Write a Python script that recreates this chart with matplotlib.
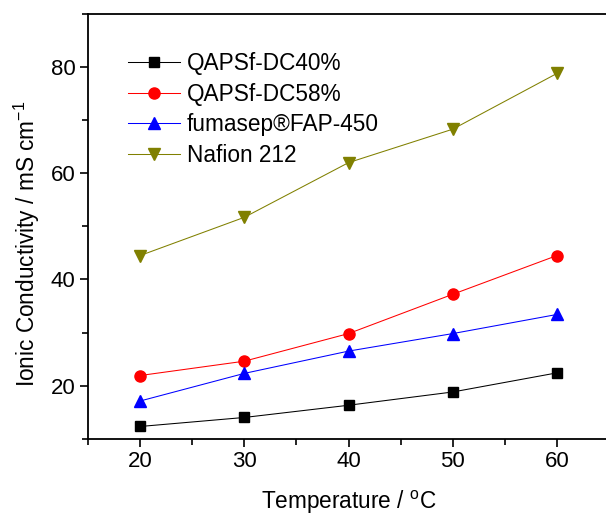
import matplotlib
matplotlib.use('Agg')
import matplotlib.pyplot as plt
from matplotlib.ticker import MultipleLocator

plt.rcParams['font.family'] = ['Liberation Sans', 'DejaVu Sans']
plt.rcParams['mathtext.fontset'] = 'custom'
plt.rcParams['mathtext.rm'] = 'Liberation Sans'

# Daten
T = [20, 30, 40, 50, 60]
dc40 = [12.3, 14.0, 16.3, 18.8, 22.4]
dc58 = [21.9, 24.6, 29.8, 37.2, 44.5]
fap450 = [17.1, 22.3, 26.5, 29.8, 33.4]
nafion = [44.5, 51.7, 62.0, 68.3, 78.8]

labels = ['QAPSf-DC40%', 'QAPSf-DC58%', 'fumasep\u00aeFAP-450', 'Nafion 212']

fig = plt.figure(figsize=(6.06, 5.15), dpi=100)
W, H = 606, 515
ax = fig.add_axes([88/W, 1 - 438.7/H, (609-88)/W, (438.7-14)/H])

ax.plot(T, dc40, '-', color='black', lw=0.75, marker='s', ms=7, mfc='black', mec='black', label=labels[0])
ax.plot(T, dc58, '-', color='red', lw=0.75, marker='o', ms=8, mfc='red', mec='red', label=labels[1])
ax.plot(T, fap450, '-', color='blue', lw=0.75, marker='^', ms=9, mfc='blue', mec='blue', label=labels[2])
ax.plot(T, nafion, '-', color='#808000', lw=0.75, marker='v', ms=9, mfc='#808000', mec='#808000', label=labels[3])

ax.set_xlim(15, 65)
ax.set_ylim(10, 90)
ax.xaxis.set_major_locator(MultipleLocator(10))
ax.xaxis.set_minor_locator(MultipleLocator(5))
ax.yaxis.set_major_locator(MultipleLocator(20))
ax.yaxis.set_minor_locator(MultipleLocator(10))
ax.tick_params(which='both', direction='out', width=1.2, labelsize=16)
ax.tick_params(which='major', length=6, pad=3)
ax.tick_params(which='minor', length=4)
ax.spines['right'].set_visible(False)
for s in ['left', 'top', 'bottom']:
    ax.spines[s].set_linewidth(1.3)

ax.set_xlabel(r'Temperature / $^{\mathrm{o}}$C', fontsize=16.3)
ax.xaxis.set_label_coords((349-88)/521, (438.7-502)/424.7)
ax.set_ylabel(r'Ionic Conductivity / mS cm$^{-1}$', fontsize=16.3)
ax.yaxis.set_label_coords((27-88)/521, (438.7-244)/424.7)
ax.xaxis.label.set_va('center')
ax.yaxis.label.set_va('center')

ax.legend(loc='upper left', bbox_to_anchor=(0.077, 0.91), frameon=False, fontsize=16.3,
          borderaxespad=0, borderpad=0, handlelength=2.3, handletextpad=0.3, labelspacing=0.33)

fig.savefig('out.png', dpi=100)
